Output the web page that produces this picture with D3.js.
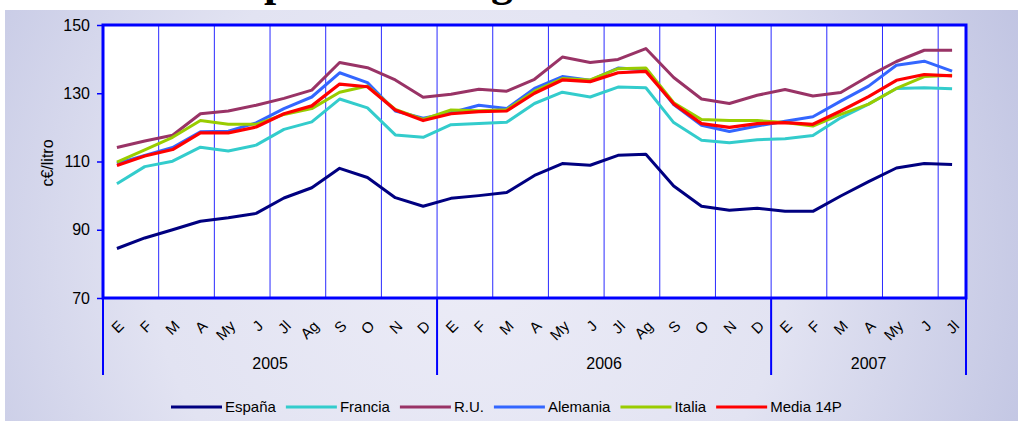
<!DOCTYPE html>
<html>
<head>
<meta charset="utf-8">
<script src="https://cdn.jsdelivr.net/npm/d3@7/dist/d3.min.js"></script>
<style>
    body { margin: 0; background: #fff; }
    svg { display: block; font-family: Arial, "Liberation Sans", sans-serif; }
</style>
</head>
<body>
<svg id="chart" width="1018" height="421"></svg>
<script>
    // months Jan 2005 .. Jul 2007
    var months = ["E","F","M","A","My","J","Jl","Ag","S","O","N","D",
                  "E","F","M","A","My","J","Jl","Ag","S","O","N","D",
                  "E","F","M","A","My","J","Jl"];
    var years = ["2005", "2006", "2007"];
    var yearMonths = [12, 12, 7];
    var yTicks = [70, 90, 110, 130, 150];

    var espana   = [84.5, 87.6, 90.0, 92.5, 93.5, 94.8, 99.3, 102.3, 108.0, 105.3, 99.4, 96.9,
                    99.2, 100.0, 100.9, 105.9, 109.4, 108.9, 111.8, 112.1, 102.8, 96.9, 95.7, 96.3,
                    95.4, 95.4, 99.9, 104.1, 108.1, 109.4, 109.1];
    var francia  = [103.5, 108.5, 110.1, 114.2, 113.1, 114.8, 119.4, 121.6, 128.3, 125.7, 117.8, 117.1,
                    120.8, 121.1, 121.5, 127.0, 130.3, 128.9, 131.8, 131.6, 121.4, 116.2, 115.5, 116.4,
                    116.7, 117.6, 122.8, 126.8, 131.4, 131.6, 131.3];
    var ru       = [114.1, 116.0, 117.7, 124.0, 124.8, 126.5, 128.5, 130.9, 139.0, 137.5, 133.9, 128.8,
                    129.7, 131.2, 130.6, 134.1, 140.6, 139.0, 139.9, 143.1, 134.6, 128.3, 127.0, 129.4,
                    131.1, 129.2, 130.2, 135.0, 139.3, 142.6, 142.6];
    var alemania = [109.4, 111.8, 114.1, 118.7, 118.9, 121.3, 125.5, 128.9, 136.0, 133.1, 124.8, 122.7,
                    124.3, 126.5, 125.5, 131.4, 134.9, 133.8, 137.4, 136.9, 126.7, 120.6, 118.8, 120.4,
                    121.8, 123.1, 127.7, 132.1, 138.2, 139.4, 136.5];
    var italia   = [109.8, 113.4, 117.1, 122.0, 120.9, 120.9, 123.8, 125.5, 130.3, 132.1, 125.3, 122.3,
                    125.1, 124.9, 125.2, 130.6, 134.3, 133.9, 137.2, 137.4, 127.2, 122.3, 122.0, 122.0,
                    121.4, 120.4, 123.8, 126.8, 131.4, 134.9, 135.3];
    var media    = [108.8, 111.6, 113.5, 118.4, 118.4, 120.1, 124.0, 126.3, 132.7, 131.9, 125.1, 122.0,
                    124.0, 124.6, 124.8, 130.0, 133.9, 133.4, 136.0, 136.4, 126.9, 121.1, 120.0, 121.1,
                    121.4, 120.9, 124.8, 129.0, 133.8, 135.5, 135.1];

    var seriesNames = ["España", "Francia", "R.U.", "Alemania", "Italia", "Media 14P"];
    var seriesColors = ["#000080", "#33cccc", "#993366", "#3366ff", "#99cc00", "#ff0000"];
    var seriesValues = [espana, francia, ru, alemania, italia, media];

    var svg = d3.select("#chart");
    var plot = { left: 103, right: 966, top: 25, bottom: 298 };

    // background panel
    var defs = svg.append("defs");
    var grad = defs.append("radialGradient")
        .attr("id", "bg").attr("gradientUnits", "userSpaceOnUse")
        .attr("cx", 470).attr("cy", 250).attr("r", 640);
    grad.append("stop").attr("offset", 0).attr("stop-color", "#ececf7");
    grad.append("stop").attr("offset", 0.5).attr("stop-color", "#e2e3f2");
    grad.append("stop").attr("offset", 1).attr("stop-color", "#bcc0e0");

    svg.append("rect").attr("x", 5).attr("y", 10).attr("width", 1013).attr("height", 411)
        .attr("fill", "url(#bg)");

    // title, mostly hidden above the frame (only descenders show)
    defs.append("clipPath").attr("id", "titleClip")
        .append("rect").attr("x", 0).attr("y", 0).attr("width", 1018).attr("height", 10);
    var title = svg.append("text")
        .attr("clip-path", "url(#titleClip)")
        .attr("y", -4)
        .style("font-family", "'Liberation Serif', 'DejaVu Serif', serif")
        .style("font-weight", "bold")
        .style("font-size", "40px")
        .text("Evolución del precio de la gasolina");
    var tNode = title.node();
    var txt = tNode.textContent;
    var pPos = tNode.getSubStringLength(0, txt.indexOf("precio"));
    var gPos = tNode.getSubStringLength(0, txt.indexOf("gasolina"));
    var fs = 40 * 227 / (gPos - pPos);
    title.style("font-size", fs + "px").attr("y", -fs * 0.1);
    pPos = tNode.getSubStringLength(0, txt.indexOf("precio"));
    title.attr("x", 264 - pPos);

    var x = d3.scaleBand().domain(d3.range(months.length)).range([plot.left, plot.right]).paddingInner(0);
    var y = d3.scaleLinear().domain([70, 150]).range([plot.bottom, plot.top]);
    var cx = function(i) { return x(i) + x.bandwidth() / 2; };

    // plot area
    svg.append("rect")
        .attr("x", plot.left).attr("y", plot.top)
        .attr("width", plot.right - plot.left).attr("height", plot.bottom - plot.top)
        .attr("fill", "#fff");

    // vertical grid every 2 months
    svg.selectAll(".vgrid")
        .data(d3.range(2, months.length, 2))
        .enter().append("line")
        .attr("class", "vgrid")
        .attr("x1", function(d) { return x(d); }).attr("x2", function(d) { return x(d); })
        .attr("y1", plot.top).attr("y2", plot.bottom)
        .attr("stroke", "#2a2aff").attr("stroke-width", 1);

    // lines
    var line = d3.line()
        .x(function(d, i) { return cx(i); })
        .y(function(d) { return y(d); });

    seriesValues.forEach(function(vals, k) {
        svg.append("path")
            .datum(vals)
            .attr("d", line)
            .attr("fill", "none")
            .attr("stroke", seriesColors[k])
            .attr("stroke-width", k == 5 ? 3.2 : 3)
            .attr("stroke-linejoin", "round");
    });

    // frame
    svg.append("rect")
        .attr("x", plot.left).attr("y", plot.top)
        .attr("width", plot.right - plot.left).attr("height", plot.bottom - plot.top)
        .attr("fill", "none").attr("stroke", "#0000ff").attr("stroke-width", 3);

    // y axis
    var yAxis = svg.append("g")
        .attr("transform", "translate(" + plot.left + ",0)")
        .call(d3.axisLeft(y).tickValues(yTicks).tickSize(6).tickPadding(7));
    yAxis.select(".domain").remove();
    yAxis.selectAll(".tick line").attr("stroke", "#0000ff").attr("stroke-width", 1.5);
    yAxis.selectAll(".tick text")
        .attr("fill", "#000")
        .style("font-size", "16px")
        .style("font-family", "Arial, 'Liberation Sans', sans-serif");

    svg.append("text")
        .attr("transform", "translate(53,163) rotate(-90)")
        .attr("text-anchor", "middle")
        .style("font-size", "16px")
        .text("c€/litro");

    // month labels
    svg.selectAll(".month")
        .data(months)
        .enter().append("text")
        .attr("class", "month")
        .attr("text-anchor", "end")
        .attr("transform", function(d, i) {
            return "translate(" + (cx(i) + 8) + ",327) rotate(-45)";
        })
        .style("font-size", "15px")
        .text(function(d) { return d; });

    // year groups
    var start = 0;
    var yearBounds = [0];
    yearMonths.forEach(function(n) { start += n; yearBounds.push(start); });

    svg.selectAll(".ysep")
        .data(yearBounds)
        .enter().append("line")
        .attr("class", "ysep")
        .attr("x1", function(d) { return d < months.length ? x(d) : plot.right; })
        .attr("x2", function(d) { return d < months.length ? x(d) : plot.right; })
        .attr("y1", plot.bottom).attr("y2", 375)
        .attr("stroke", "#0000ff").attr("stroke-width", 2);

    svg.selectAll(".year")
        .data(years)
        .enter().append("text")
        .attr("class", "year")
        .attr("text-anchor", "middle")
        .attr("x", function(d, i) {
            var a = x(yearBounds[i]);
            var b = yearBounds[i + 1] < months.length ? x(yearBounds[i + 1]) : plot.right;
            return (a + b) / 2;
        })
        .attr("y", 369)
        .style("font-size", "16px")
        .text(function(d) { return d; });

    // legend
    var lx = 171;
    seriesNames.forEach(function(name, k) {
        svg.append("line")
            .attr("x1", lx).attr("x2", lx + 51)
            .attr("y1", 407).attr("y2", 407)
            .attr("stroke", seriesColors[k]).attr("stroke-width", 3);
        var t = svg.append("text")
            .attr("x", lx + 54).attr("y", 412)
            .style("font-size", "15px")
            .text(name);
        lx += 54 + t.node().getComputedTextLength() + 10;
    });
</script>
</body>
</html>
